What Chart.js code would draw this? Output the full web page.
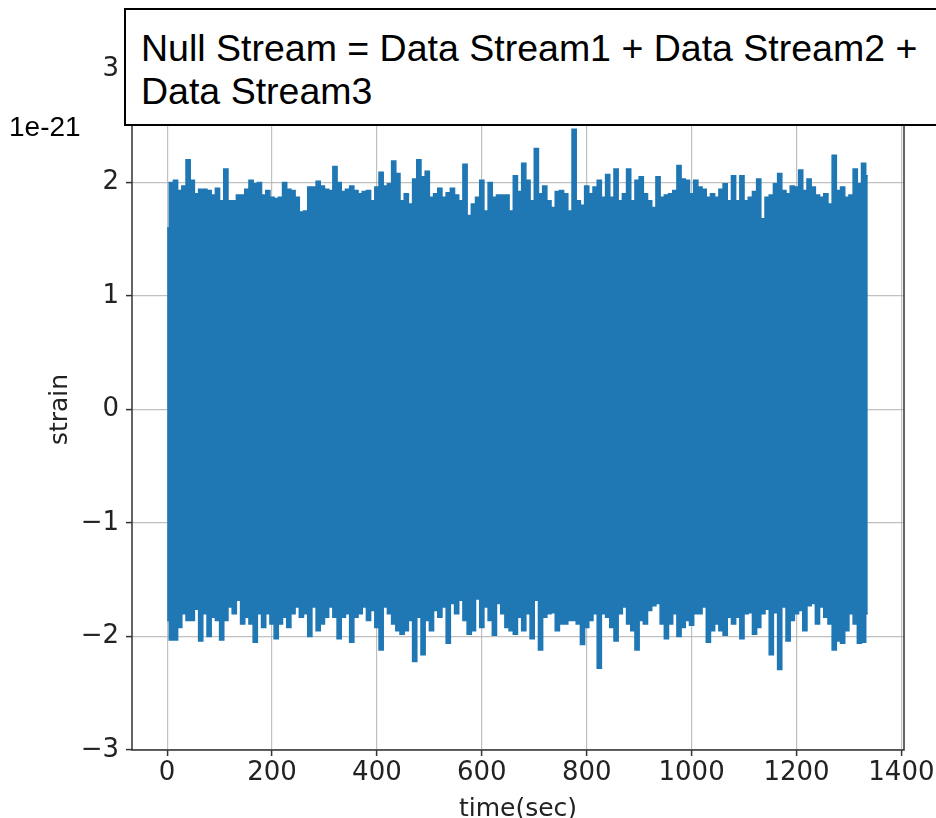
<!DOCTYPE html>
<html>
<head>
<meta charset="utf-8">
<title>Null Stream</title>
<script src="https://cdn.jsdelivr.net/npm/chart.js@4.4.1/dist/chart.umd.min.js"></script>
<style>
  body { margin: 0; background: #fff; }
  #frame { position: relative; width: 936px; height: 818px; overflow: hidden; }
  #frame canvas { position: absolute; left: 0; top: 0; }
  .caption {
    position: absolute; left: 124px; top: 8px; width: 830px; height: 118px;
    box-sizing: border-box; border: 2px solid #000; background: #fff;
    padding: 17px 0 0 15px;
    font: 37.5px/43px "Liberation Sans", Arial, sans-serif; color: #000;
    white-space: nowrap;
  }
  .exponent {
    position: absolute; left: 9px; top: 113px;
    font: 28px/28px "Liberation Sans", Arial, sans-serif; color: #000;
  }
</style>
</head>
<body>
<div id="frame">
  <canvas id="strainChart" width="936" height="818"></canvas>
  <div class="exponent">1e-21</div>
  <div class="caption">Null Stream = Data Stream1 + Data Stream2 +<br>Data Stream3</div>
</div>
<script>
// envelope of the null stream, one max/min pair every 8 s (units of 1e-21)
const sampleStep = 8;
const upperEnvelope = [
  1.60, 2.00, 2.02, 1.93, 1.97, 2.20, 2.02, 1.90, 1.94, 1.94,
  1.93, 1.89, 1.95, 1.84, 2.12, 1.84, 1.84, 1.89, 1.89, 1.94,
  2.02, 1.99, 2.00, 1.89, 1.93, 1.87, 1.86, 1.87, 2.00, 1.94,
  1.93, 1.87, 1.74, 1.75, 1.96, 1.96, 2.01, 1.97, 1.94, 1.93,
  2.14, 2.00, 1.92, 1.94, 1.97, 1.93, 1.90, 1.92, 1.93, 1.84,
  1.96, 2.09, 1.97, 1.99, 2.19, 2.08, 1.84, 1.90, 1.81, 2.03,
  2.20, 2.05, 2.10, 1.87, 1.90, 1.95, 1.87, 1.91, 1.95, 1.89,
  1.84, 2.16, 1.71, 1.81, 1.87, 2.02, 1.75, 2.00, 1.87, 1.89,
  1.89, 1.89, 1.75, 2.06, 1.92, 2.17, 2.02, 1.84, 2.30, 1.90,
  1.97, 1.84, 1.78, 1.92, 1.93, 1.90, 1.75, 2.47, 1.84, 1.80,
  1.97, 1.90, 1.96, 2.02, 1.87, 2.07, 1.87, 2.12, 1.84, 1.90,
  2.12, 1.84, 2.02, 2.05, 1.90, 1.84, 1.78, 2.05, 1.87, 1.89,
  1.90, 1.93, 2.15, 2.03, 2.02, 1.90, 2.02, 1.96, 1.94, 1.87,
  1.90, 1.87, 1.94, 1.99, 1.84, 2.06, 1.84, 2.06, 1.84, 1.87,
  1.92, 2.03, 1.68, 1.87, 1.89, 1.99, 2.08, 1.93, 1.90, 1.97,
  1.96, 2.11, 1.93, 2.03, 1.96, 1.89, 1.87, 1.90, 1.81, 2.24,
  1.93, 1.96, 1.87, 1.89, 2.12, 1.99, 2.17, 2.06
];
const lowerEnvelope = [
  -1.86, -2.03, -2.03, -1.92, -1.80, -1.86, -1.86, -1.76, -2.04, -1.80,
  -2.00, -1.83, -1.86, -2.03, -1.86, -1.74, -1.80, -1.68, -1.89, -1.83,
  -1.89, -2.05, -1.80, -1.92, -1.80, -1.89, -2.02, -1.89, -1.83, -1.92,
  -1.80, -1.74, -1.83, -1.80, -2.00, -1.74, -1.95, -1.89, -1.83, -1.74,
  -1.83, -2.02, -1.83, -1.80, -2.05, -1.83, -1.80, -1.74, -1.86, -1.77,
  -1.92, -2.12, -1.74, -1.80, -1.89, -1.95, -1.98, -1.95, -1.86, -2.22,
  -1.83, -2.16, -1.86, -1.95, -1.77, -1.83, -1.74, -2.06, -1.71, -1.80,
  -1.68, -1.86, -1.98, -1.95, -1.67, -1.92, -1.74, -1.86, -1.99, -1.71,
  -1.80, -1.92, -1.95, -1.98, -1.83, -1.95, -1.80, -2.02, -1.68, -2.12,
  -1.83, -1.80, -1.79, -1.95, -1.89, -1.89, -1.86, -1.86, -1.89, -2.07,
  -1.92, -1.86, -1.80, -2.28, -1.80, -1.83, -1.92, -2.04, -1.80, -1.74,
  -1.89, -1.95, -2.12, -1.86, -1.89, -1.77, -1.73, -1.71, -1.89, -2.02,
  -1.89, -1.80, -2.00, -1.92, -1.86, -1.90, -1.80, -1.80, -1.74, -2.05,
  -1.95, -1.89, -1.95, -1.99, -1.83, -1.89, -1.83, -2.02, -1.80, -1.79,
  -1.98, -1.92, -1.80, -1.76, -2.16, -1.79, -2.29, -1.74, -2.04, -1.86,
  -1.80, -1.77, -1.95, -1.73, -1.71, -1.89, -1.74, -1.83, -1.89, -2.12,
  -2.04, -2.06, -1.95, -1.80, -1.89, -2.06, -2.05, -1.80
];
const xTickValues = [0, 200, 400, 600, 800, 1000, 1200, 1400];
const yTickValues = [-3, -2, -1, 0, 1, 2, 3];

const blue = '#1f77b4';
const tickFont = { family: 'DejaVu Sans', size: 26 };
const labelFont = { family: 'DejaVu Sans', size: 25 };
const gridColor = 'rgba(176,176,176,0.8)';

const toPoints = (vals) => vals.map((v, i) => ({ x: i * sampleStep, y: v }));
const plainNumber = (v) => String(v);
const minusSign = (v) => (v < 0 ? '\u2212' + Math.abs(v) : String(v));

// box round the whole axes, drawn over the trace like matplotlib spines
const spines = {
  id: 'spines',
  afterDatasetsDraw(chart) {
    const { ctx, chartArea: a } = chart;
    ctx.save();
    ctx.strokeStyle = '#333';
    ctx.lineWidth = 1.5;
    ctx.strokeRect(a.left, a.top, a.right - a.left, a.bottom - a.top);
    ctx.restore();
  }
};

new Chart(document.getElementById('strainChart'), {
  type: 'line',
  data: {
    datasets: [
      {
        label: 'upper',
        data: toPoints(upperEnvelope),
        stepped: 'middle',
        fill: '+1',
        backgroundColor: blue,
        borderColor: blue,
        borderWidth: 1.5,
        pointRadius: 0
      },
      {
        label: 'lower',
        data: toPoints(lowerEnvelope),
        stepped: 'middle',
        fill: false,
        borderColor: blue,
        borderWidth: 1.5,
        pointRadius: 0
      }
    ]
  },
  options: {
    responsive: false,
    animation: false,
    devicePixelRatio: 1,
    layout: { padding: { left: 0, right: 32, top: 69, bottom: 0 } },
    plugins: { legend: { display: false }, tooltip: { enabled: false } },
    scales: {
      x: {
        type: 'linear',
        min: -67,
        max: 1405,
        afterBuildTicks: (s) => { s.ticks = xTickValues.map((v) => ({ value: v })); },
        afterFit: (s) => { s.height = 68; s.paddingLeft = 0; s.paddingRight = 0; },
        ticks: { font: tickFont, color: '#222', padding: 2, maxRotation: 0, autoSkip: false, callback: plainNumber },
        grid: { color: gridColor, lineWidth: 1.2, tickLength: 6, tickColor: '#333', tickWidth: 1.5 },
        border: { display: false },
        title: {
          display: true,
          text: 'time(sec)',
          color: '#222',
          font: labelFont,
          padding: { top: 0, bottom: -6 }
        }
      },
      y: {
        min: -3,
        max: 3,
        afterBuildTicks: (s) => { s.ticks = yTickValues.map((v) => ({ value: v })); },
        afterFit: (s) => { s.width = 132; s.paddingTop = 0; s.paddingBottom = 0; },
        ticks: { font: tickFont, color: '#222', padding: 7, callback: minusSign },
        grid: { color: gridColor, lineWidth: 1.2, tickLength: 6, tickColor: '#333', tickWidth: 1.5 },
        border: { display: false },
        title: {
          display: true,
          text: 'strain',
          color: '#222',
          font: labelFont,
          padding: { top: 45, bottom: 0 }
        }
      }
    }
  },
  plugins: [spines]
});
</script>
</body>
</html>
